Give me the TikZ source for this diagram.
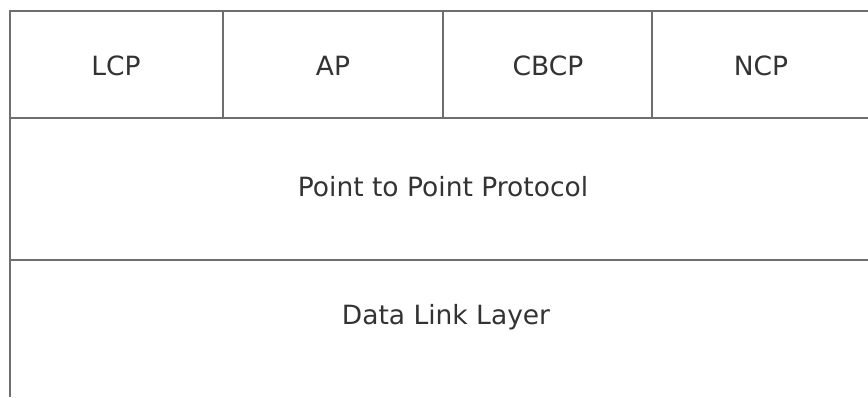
\documentclass[tikz,border=0pt]{standalone}
\usepackage{fontspec}
\setmainfont{DejaVu Sans}
\definecolor{rulegray}{HTML}{6E6E6E}
\definecolor{textgray}{HTML}{333333}
\tikzset{
  rule/.style={draw=rulegray, line width=2.8pt},
  layer/.style={text=textgray, font=\fontsize{26.5}{31}\selectfont, inner sep=0pt}
}
\begin{document}
\begin{tikzpicture}[x=1pt, y=-1pt]
        \useasboundingbox (0, 0) rectangle (868, 397);

        \draw[rule] (868, 11) -- (10, 11) -- (10, 397);
        \draw[rule] (10, 118) -- (868, 118);
        \draw[rule] (10, 260) -- (868, 260);

        \draw[rule] (223, 11) -- (223, 118);
        \draw[rule] (443, 11) -- (443, 118);
        \draw[rule] (652, 11) -- (652, 118);

        \node (lcp)  at (116, 66) [layer] {LCP};
        \node (ap)   at (333, 66) [layer] {AP};
        \node (cbcp) at (548, 66) [layer] {CBCP};
        \node (ncp)  at (761, 66) [layer] {NCP};

        \node (ppp) at (443, 187) [layer] {Point to Point Protocol};
        \node (dll) at (446, 317) [layer] {Data Link Layer};
      \end{tikzpicture}
\end{document}
